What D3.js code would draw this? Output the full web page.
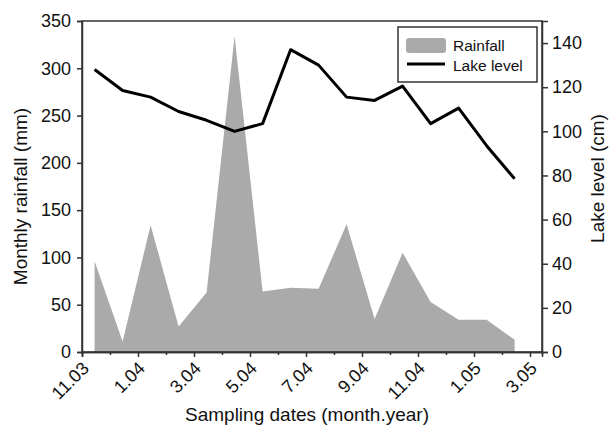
<!DOCTYPE html>
<html>
<head>
<meta charset="utf-8">
<script src="https://cdn.jsdelivr.net/npm/d3@7"></script>
<style>
  body { margin: 0; background: #fff; }
  text { font-family: "Liberation Sans", Arial, sans-serif; fill: #111; }
</style>
</head>
<body>
<div id="chart"></div>
<script>
// sampling months (month.year), one sample per month, taken mid-month
var sampleMonths = ['11.03', '12.03', '1.04', '2.04', '3.04', '4.04', '5.04', '6.04',
                    '7.04', '8.04', '9.04', '10.04', '11.04', '12.04', '1.05', '2.05'];
var rainfall = [96, 11, 134, 27, 63, 334, 64, 68, 67, 135, 35, 105, 53, 34, 34, 13];
var lakeLevel = [128, 118.5, 115.5, 109, 105, 100, 103.5, 137, 130, 115.5, 114, 120.5, 103.5, 110.5, 93.5, 78.5];
var xTickLabels = ['11.03', '1.04', '3.04', '5.04', '7.04', '9.04', '11.04', '1.05', '3.05'];
var rainTicks = [0, 50, 100, 150, 200, 250, 300, 350];
var levelTicks = [0, 20, 40, 60, 80, 100, 120, 140];

var svgWidth = 611;
var svgHeight = 427;

var margin = { top: 21, right: 69, bottom: 75, left: 82 };
var width = svgWidth - margin.left - margin.right;
var height = svgHeight - margin.top - margin.bottom;

var svg = d3.select('#chart')
    .append('svg')
    .attr('width', svgWidth)
    .attr('height', svgHeight);

var chartGroup = svg.append('g')
    .attr('transform', `translate(${margin.left}, ${margin.top})`);

// x in months since 11.03
var xScale = d3.scaleLinear()
    .domain([0, width / 28])
    .range([0, width]);

var yLeft = d3.scaleLinear()
    .domain([0, 350])
    .range([height, 0]);

var yRight = d3.scaleLinear()
    .domain([0, 150])
    .range([height, 0]);

var samplePos = sampleMonths.map((m, i) => i + 0.45);

// rainfall area
var area = d3.area()
    .x((d, i) => xScale(samplePos[i]))
    .y0(height)
    .y1(d => yLeft(d));

chartGroup.append('path')
    .datum(rainfall)
    .attr('d', area)
    .attr('fill', '#aaaaaa');

// lake level line
var line = d3.line()
    .x((d, i) => xScale(samplePos[i]))
    .y(d => yRight(d));

chartGroup.append('path')
    .datum(lakeLevel)
    .attr('d', line)
    .attr('fill', 'none')
    .attr('stroke', '#000')
    .attr('stroke-width', 3)
    .attr('stroke-linejoin', 'round');

// frame
chartGroup.append('rect')
    .attr('width', width)
    .attr('height', height)
    .attr('fill', 'none')
    .attr('stroke', '#333')
    .attr('stroke-width', 1.5);

// left axis
var leftAxis = d3.axisLeft(yLeft).tickValues(rainTicks).tickSize(5).tickPadding(6);
var gl = chartGroup.append('g').call(leftAxis);

// right axis
var rightAxis = d3.axisRight(yRight).tickValues(levelTicks).tickSize(6).tickPadding(4);
var gr = chartGroup.append('g')
    .attr('transform', `translate(${width}, 0)`)
    .call(rightAxis);

// bottom axis: minor ticks every month, labels every 2 months
var monthTicks = d3.range(0, 17);
var minorAxis = d3.axisBottom(xScale).tickValues(monthTicks.filter(m => m % 2 == 1))
    .tickSize(3).tickFormat('');
chartGroup.append('g')
    .attr('transform', `translate(0, ${height})`)
    .call(minorAxis);

var bottomAxis = d3.axisBottom(xScale)
    .tickValues(monthTicks.filter(m => m % 2 == 0))
    .tickSize(5)
    .tickFormat((d, i) => xTickLabels[i]);
var gb = chartGroup.append('g')
    .attr('transform', `translate(0, ${height})`)
    .call(bottomAxis);

gb.selectAll('text')
    .attr('text-anchor', 'end')
    .attr('transform', 'translate(3, 13) rotate(-45)')
    .attr('dy', '0.35em')
    .attr('y', 0)
    .attr('x', 0);

[gl, gr, gb].forEach(function(g) {
    g.selectAll('text').style('font-size', '18px');
});
chartGroup.selectAll('.tick line').attr('stroke', '#333').attr('stroke-width', 1.5);
chartGroup.selectAll('.domain').attr('stroke', '#333').attr('stroke-width', 1.5);

// axis labels
chartGroup.append('text')
    .attr('transform', `translate(${-margin.left + 27}, ${height / 2 + 10}) rotate(-90)`)
    .attr('text-anchor', 'middle')
    .style('font-size', '19px')
    .text('Monthly rainfall (mm)');

chartGroup.append('text')
    .attr('transform', `translate(${width + 62}, ${height / 2 - 8}) rotate(-90)`)
    .attr('text-anchor', 'middle')
    .style('font-size', '19px')
    .text('Lake level (cm)');

chartGroup.append('text')
    .attr('x', 225)
    .attr('y', height + 69)
    .attr('text-anchor', 'middle')
    .style('font-size', '19px')
    .text('Sampling dates (month.year)');

// legend
var legend = svg.append('g').attr('transform', 'translate(398, 27)');
legend.append('rect')
    .attr('width', 139)
    .attr('height', 55)
    .attr('fill', '#fff')
    .attr('stroke', '#333')
    .attr('stroke-width', 1.5);
legend.append('rect')
    .attr('x', 8).attr('y', 11)
    .attr('width', 40).attr('height', 15)
    .attr('rx', 3)
    .attr('fill', '#aaaaaa');
legend.append('line')
    .attr('x1', 9).attr('x2', 47)
    .attr('y1', 37).attr('y2', 37)
    .attr('stroke', '#000')
    .attr('stroke-width', 3);
legend.append('text')
    .attr('x', 55).attr('y', 24)
    .style('font-size', '15.5px')
    .text('Rainfall');
legend.append('text')
    .attr('x', 55).attr('y', 44)
    .style('font-size', '15.5px')
    .text('Lake level');
</script>
</body>
</html>
